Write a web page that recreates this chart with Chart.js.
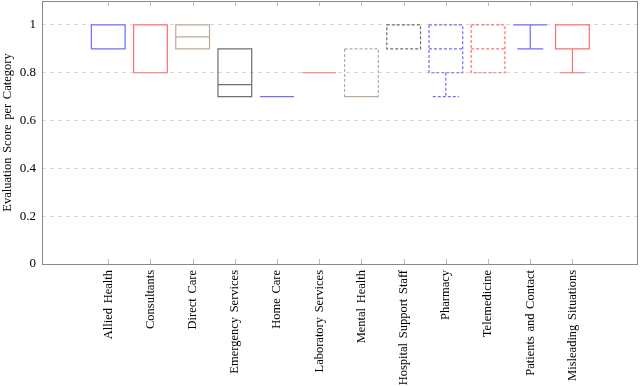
<!DOCTYPE html>
<html>
<head>
<meta charset="utf-8">
<script src="https://cdn.jsdelivr.net/npm/chart.js@4/dist/chart.umd.min.js"></script>
<style>
  html, body { margin: 0; padding: 0; background: #fff; }
  #wrap { width: 640px; height: 386px; }
</style>
</head>
<body>
<div id="wrap"><canvas id="myChart" width="640" height="386"></canvas></div>
<script>
// categories and box plot values
const categories = [
  "Allied Health", "Consultants", "Direct Care", "Emergency Services",
  "Home Care", "Laboratory Services", "Mental Health", "Hospital Support Staff",
  "Pharmacy", "Telemedicine", "Patients and Contact", "Misleading Situations"
];
const minValues    = [0.9, 0.8, 0.9, 0.7, 0.7, 0.8, 0.7, 0.9, 0.7, 0.8, 0.9, 0.8];
const lowerQuartile = [0.9, 0.8, 0.9, 0.7, 0.7, 0.8, 0.7, 0.9, 0.8, 0.8, 1.0, 0.9];
const medianValues = [1.0, 0.8, 0.95, 0.75, 0.7, 0.8, 0.7, 1.0, 0.9, 0.9, 1.0, 1.0];
const upperQuartile = [1.0, 1.0, 1.0, 0.9, 0.7, 0.8, 0.9, 1.0, 1.0, 1.0, 1.0, 1.0];
const maxValues    = [1.0, 1.0, 1.0, 0.9, 0.7, 0.8, 0.9, 1.0, 1.0, 1.0, 1.0, 1.0];
const yTicks = [0, 0.2, 0.4, 0.6, 0.8, 1];

// styles
const BLUE = "rgb(110,110,255)";
const RED = "rgb(255,110,110)";
const BROWN = "rgb(190,170,150)";
const GRAY = "rgb(110,110,110)";
const boxColors = [BLUE, RED, BROWN, GRAY, BLUE, RED, BROWN, GRAY, BLUE, RED, BLUE, RED];
const boxDashed = [false, false, false, false, false, false, true, true, true, true, false, false];

const serif = "'Liberation Serif', 'DejaVu Serif', serif";

const boxPlugin = {
  id: "boxes",
  beforeDraw(chart) {
    chart.ctx.wordSpacing = "1.5px";
  },
  afterDatasetsDraw(chart) {
    const ctx = chart.ctx;
    const x = chart.scales.x;
    const y = chart.scales.y;
    ctx.save();
    ctx.lineWidth = 1.2;
    categories.forEach((c, i) => {
      const xl = x.getPixelForValue(i - 0.4);
      const xr = x.getPixelForValue(i + 0.4);
      const cl = x.getPixelForValue(i - 0.31);
      const cr = x.getPixelForValue(i + 0.31);
      const xc = x.getPixelForValue(i);
      const yMin = y.getPixelForValue(minValues[i]);
      const yQ1 = y.getPixelForValue(lowerQuartile[i]);
      const yMed = y.getPixelForValue(medianValues[i]);
      const yQ3 = y.getPixelForValue(upperQuartile[i]);
      const yMax = y.getPixelForValue(maxValues[i]);
      ctx.strokeStyle = boxColors[i];
      ctx.setLineDash(boxDashed[i] ? [3, 2] : []);
      ctx.beginPath();
      // box
      ctx.rect(xl, yQ3, xr - xl, yQ1 - yQ3);
      // median
      ctx.moveTo(xl, yMed);
      ctx.lineTo(xr, yMed);
      // whiskers
      if (minValues[i] < lowerQuartile[i]) {
        ctx.moveTo(xc, yQ1);
        ctx.lineTo(xc, yMin);
        ctx.moveTo(cl, yMin);
        ctx.lineTo(cr, yMin);
      }
      if (maxValues[i] > upperQuartile[i]) {
        ctx.moveTo(xc, yQ3);
        ctx.lineTo(xc, yMax);
        ctx.moveTo(cl, yMax);
        ctx.lineTo(cr, yMax);
      }
      ctx.stroke();
    });
    ctx.restore();
  },
  afterDraw(chart) {
    // frame and inward tick marks
    const ctx = chart.ctx;
    const a = chart.chartArea;
    const x = chart.scales.x;
    ctx.save();
    ctx.strokeStyle = "#888";
    ctx.lineWidth = 1;
    ctx.setLineDash([]);
    ctx.strokeRect(Math.round(a.left) + 0.5, Math.round(a.top) + 0.5,
      Math.round(a.right - a.left), Math.round(a.bottom - a.top));
    ctx.strokeStyle = "#bbb";
    ctx.beginPath();
    categories.forEach((c, i) => {
      const px = Math.round(x.getPixelForValue(i)) + 0.5;
      ctx.moveTo(px, a.top);
      ctx.lineTo(px, a.top + 5);
      ctx.moveTo(px, a.bottom);
      ctx.lineTo(px, a.bottom - 5);
    });
    ctx.stroke();
    ctx.restore();
  }
};

const data = {
  datasets: [{
    label: "range",
    data: categories.map((c, i) => ({ x: i, y: [minValues[i], maxValues[i]] })),
    backgroundColor: "rgba(0,0,0,0)",
    borderWidth: 0
  }]
};

const config = {
  type: "bar",
  data: data,
  options: {
    responsive: false,
    animation: false,
    layout: { padding: { top: 0, right: 3, left: 0, bottom: 0 } },
    plugins: { legend: { display: false }, tooltip: { enabled: false } },
    scales: {
      x: {
        type: "linear",
        offset: false,
        min: -1.57,
        max: 12.53,
        afterBuildTicks: (scale) => {
          scale.ticks = categories.map((c, i) => ({ value: i }));
        },
        afterFit: (scale) => {
          scale.height = 122;
          scale.paddingLeft = 0;
          scale.paddingRight = 0;
        },
        grid: { display: false, drawTicks: false },
        border: { display: false },
        ticks: {
          minRotation: 90,
          maxRotation: 90,
          autoSkip: false,
          padding: 6,
          color: "#000",
          font: { family: serif, size: 12.5 },
          callback: (v) => categories[v]
        }
      },
      y: {
        min: 0,
        max: 1.1,
        afterBuildTicks: (scale) => {
          scale.ticks = yTicks.map((v) => ({ value: v }));
        },
        afterFit: (scale) => {
          scale.width = 42;
          scale.paddingTop = 1;
          scale.paddingBottom = 0;
        },
        grid: { color: "#d8d8d8", drawTicks: false },
        border: { display: false, dash: [4, 4] },
        ticks: {
          padding: 6,
          color: "#000",
          font: { family: serif, size: 13 },
          callback: (v) => String(Math.round(v * 10) / 10)
        },
        title: {
          display: true,
          text: "Evaluation Score per Category",
          color: "#000",
          font: { family: serif, size: 12.5 },
          padding: { top: 0, bottom: 0 }
        }
      }
    }
  },
  plugins: [boxPlugin]
};

const ctx = document.getElementById("myChart").getContext("2d");
new Chart(ctx, config);
</script>
</body>
</html>
